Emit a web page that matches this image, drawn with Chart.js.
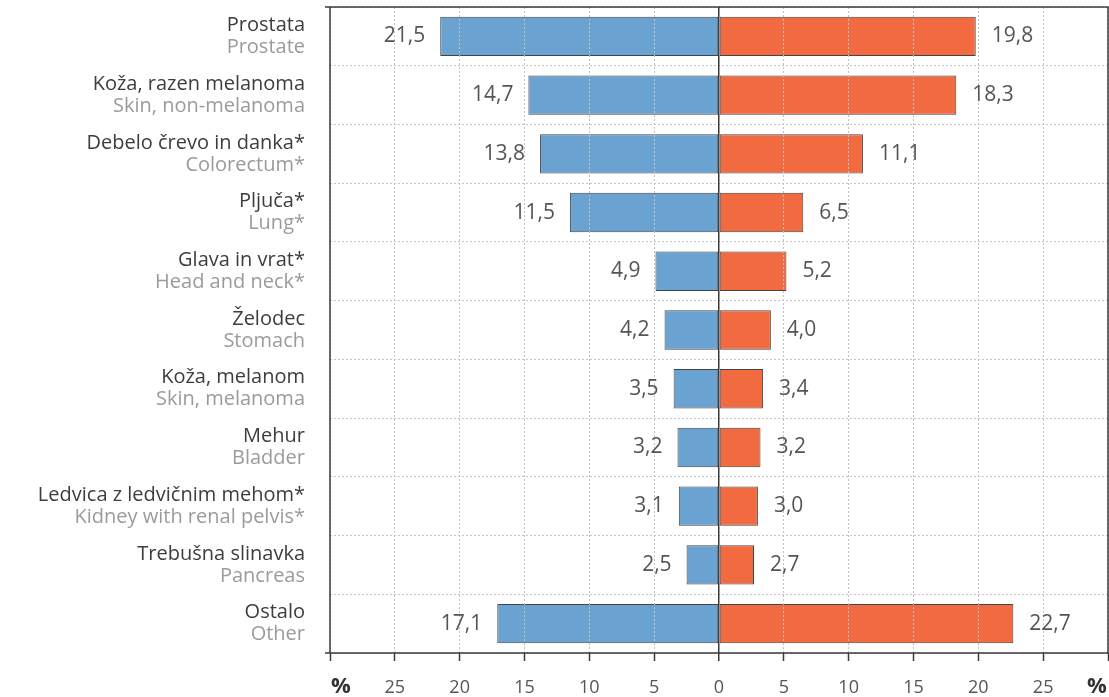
<!DOCTYPE html>
<html>
<head>
<meta charset="utf-8">
<script src="https://cdn.jsdelivr.net/npm/chart.js@4.4.1/dist/chart.umd.min.js"></script>
<style>
  html, body { margin: 0; padding: 0; background: #fff; }
  #wrap { width: 1109px; height: 697px; position: relative; }
</style>
</head>
<body>
<div id="wrap"><canvas id="c"></canvas></div>
<script>
const labelsSl = ["Prostata", "Koža, razen melanoma", "Debelo črevo in danka*", "Pljuča*", "Glava in vrat*", "Želodec", "Koža, melanom", "Mehur", "Ledvica z ledvičnim mehom*", "Trebušna slinavka", "Ostalo"];
const labelsEn = ["Prostate", "Skin, non-melanoma", "Colorectum*", "Lung*", "Head and neck*", "Stomach", "Skin, melanoma", "Bladder", "Kidney with renal pelvis*", "Pancreas", "Other"];
const valuesLeft = [21.5, 14.7, 13.8, 11.5, 4.9, 4.2, 3.5, 3.2, 3.1, 2.5, 17.1];
const valuesRight = [19.8, 18.3, 11.1, 6.5, 5.2, 4.0, 3.4, 3.2, 3.0, 2.7, 22.7];
const tickLabels = { "-25": "25", "-20": "20", "-15": "15", "-10": "10", "-5": "5", "0": "0", "5": "5", "10": "10", "15": "15", "20": "20", "25": "25" };
const unitLabel = "%";

const FONT = "'Open Sans', 'Noto Sans', sans-serif";
const fmt = v => v.toFixed(1).replace('.', ',');

const decor = {
  id: 'decor',
  afterDraw(chart) {
    const { ctx, chartArea: a } = chart;
    const yScale = chart.scales.y;
    const xScale = chart.scales.x;
    ctx.save();
    // frame
    ctx.strokeStyle = '#3a3a3a';
    ctx.lineWidth = 1.5;
    ctx.beginPath();
    ctx.moveTo(a.left - 5, a.top); ctx.lineTo(a.right, a.top); ctx.lineTo(a.right, a.bottom);
    ctx.moveTo(a.left - 5, a.bottom); ctx.lineTo(a.right, a.bottom);
    ctx.moveTo(a.left, a.top); ctx.lineTo(a.left, a.bottom);
    ctx.stroke();
    // category labels
    ctx.textAlign = 'right';
    ctx.textBaseline = 'middle';
    ctx.font = '20px ' + FONT;
    labelsSl.forEach((l, i) => {
      const y = yScale.getPixelForValue(i);
      ctx.fillStyle = '#3d3d3d';
      ctx.fillText(l, a.left - 25, y - 11);
      ctx.fillStyle = '#9b9b9b';
      ctx.fillText(labelsEn[i], a.left - 25, y + 11);
    });
    // value labels
    ctx.fillStyle = '#555';
    ctx.font = '21px ' + FONT;
    chart.data.datasets.forEach((ds, di) => {
      const meta = chart.getDatasetMeta(di);
      meta.data.forEach((bar, i) => {
        const v = Math.abs(ds.data[i]);
        if (di === 0) { ctx.textAlign = 'right'; ctx.fillText(fmt(v), bar.x - 15, bar.y); }
        else { ctx.textAlign = 'left'; ctx.fillText(fmt(v), bar.x + 16, bar.y); }
      });
    });
    // unit labels
    ctx.fillStyle = '#333';
    ctx.font = 'bold 22px ' + FONT;
    ctx.textAlign = 'center';
    ctx.fillText(unitLabel, xScale.getPixelForValue(-30) + 11, 687);
    ctx.fillText(unitLabel, xScale.getPixelForValue(30) - 11, 687);
    ctx.restore();
  }
};

new Chart(document.getElementById('c'), {
  type: 'bar',
  data: {
    labels: labelsSl,
    datasets: [
      { label: 'Moški', data: valuesLeft.map(v => -v), backgroundColor: '#6aa3d2', borderColor: '#444', borderWidth: 1, borderSkipped: false },
      { label: 'Ženske', data: valuesRight, backgroundColor: '#f26a40', borderColor: '#444', borderWidth: 1, borderSkipped: false }
    ]
  },
  options: {
    indexAxis: 'y',
    responsive: true,
    maintainAspectRatio: false,
    animation: false,
    layout: { padding: { left: 0, right: 1, top: 7, bottom: 0 } },
    plugins: { legend: { display: false }, tooltip: { enabled: false } },
    datasets: { bar: { categoryPercentage: 1, barPercentage: 0.67 } },
    scales: {
      x: {
        min: -30, max: 30,
        stacked: true,
        ticks: {
          stepSize: 5,
          autoSkip: false,
          maxRotation: 0,
          padding: 16,
          color: '#555',
          font: { family: FONT, size: 18 },
          callback: v => tickLabels[String(v)] ?? ''
        },
        grid: {
          color: ctx => (ctx.tick && ctx.tick.value === 0 ? '#3a3a3a' : '#c2c2c2'),
          lineWidth: ctx => (ctx.tick && ctx.tick.value === 0 ? 1.5 : 1),
          tickColor: '#3a3a3a',
          tickLength: 8,
          tickWidth: 1.5,
          z: 1
        },
        border: { display: false, dash: ctx => (ctx.tick && ctx.tick.value === 0 ? [] : [2, 2]) },
        afterFit: s => { s.height = 44; s.paddingLeft = 0; s.paddingRight = 0; }
      },
      y: {
        stacked: true,
        offset: true,
        ticks: { display: false },
        grid: { offset: true, color: '#c4c4c4', drawTicks: false, lineWidth: 1 },
        border: { display: false, dash: [2, 2] },
        afterFit: s => { s.width = 330; }
      }
    }
  },
  plugins: [decor]
});
</script>
</body>
</html>
